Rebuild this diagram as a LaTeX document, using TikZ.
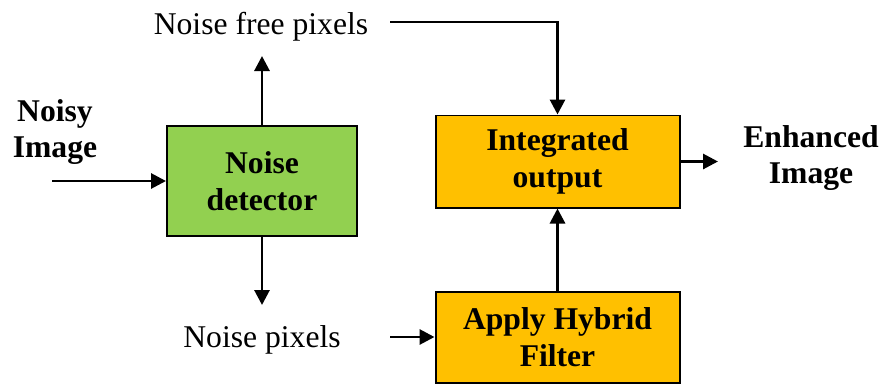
\documentclass[tikz,border=0pt]{standalone}
\usepackage{fontspec}
\setmainfont{Liberation Serif}
\usetikzlibrary{arrows.meta}
\definecolor{verde}{HTML}{92D050}
\definecolor{arancio}{HTML}{FFC000}
\begin{document}
\begin{tikzpicture}[x=0.3mm,y=-0.3mm,
    blocco/.style={draw, line width=1.7pt, align=center, inner sep=0pt,
        font=\fontsize{27}{31.5}\selectfont\bfseries},
    testo/.style={inner sep=0pt, align=center, font=\fontsize{27}{31.5}\selectfont},
    grassetto/.style={testo, font=\fontsize{27}{31.5}\selectfont\bfseries},
    freccia/.style={line width=2.5pt, -{Triangle[length=4.5mm,width=4.5mm]}}]
        \useasboundingbox (0,0) rectangle (884,385);
        %blocchi
        \node[blocco, fill=verde, minimum width=57mm, minimum height=33mm] (det) at (262,181) {Noise\\detector};
        \node[blocco, fill=arancio, minimum width=73.2mm, minimum height=27.6mm] (intg) at (557.5,161.5) {Integrated\\output};
        \node[blocco, fill=arancio, minimum width=73.2mm, minimum height=27.3mm] (hyb) at (557.5,337) {Apply Hybrid\\Filter};
        %testi
        \node[grassetto] (noisy) at (55,132) {Noisy\\Image};
        \node[grassetto] (enh) at (811,158) {Enhanced\\Image};
        \node[testo] (nfree) at (261,27) {Noise free pixels};
        \node[testo] (npix) at (262,340) {Noise pixels};
        %frecce
        \coordinate (in) at (52,181);
        \coordinate (su) at (262,56);
        \coordinate (giu) at (262,305);
        \coordinate (np) at (390,337);
        \coordinate (nf) at (390,22);
        \coordinate (out) at (718,161.5);
        \draw[freccia] (in) -- (det.west);
        \draw[freccia] (det.north) -- (su);
        \draw[freccia] (det.south) -- (giu);
        \draw[freccia] (np) -- (hyb.west);
        \draw[freccia] (nf) -| (intg.north);
        \draw[freccia] (hyb.north) -- (intg.south);
        \draw[freccia] (intg.east) -- (out);
\end{tikzpicture}
\end{document}
